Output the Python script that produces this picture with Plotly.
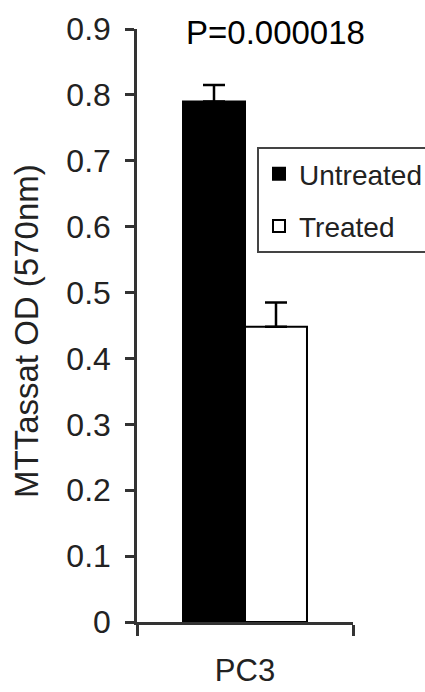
import plotly.graph_objects as go

categories = ["PC3"]
untreated = [0.79]
untreated_err = [0.025]
treated = [0.448]
treated_err = [0.037]
y_ticks = [0, 0.1, 0.2, 0.3, 0.4, 0.5, 0.6, 0.7, 0.8, 0.9]
p_label = "P=0.000018"
y_title = "MTTassat OD (570nm)"

FONT = "Liberation Sans, Arial, sans-serif"
W, H = 425, 692
ml, mr, mt, mb = 137, 72, 29, 70
pw = W - ml - mr
ph = H - mt - mb

fig = go.Figure()
fig.add_trace(go.Bar(
    name="Untreated", x=categories, y=untreated,
    marker=dict(color="#000000", line=dict(color="#000000", width=2)),
    error_y=dict(type="data", array=untreated_err, arrayminus=[0], symmetric=False,
                 color="#000000", thickness=2.5, width=11),
    legendgroup="u",
))
fig.add_trace(go.Bar(
    name="Treated", x=categories, y=treated,
    marker=dict(color="#ffffff", line=dict(color="#000000", width=2)),
    error_y=dict(type="data", array=treated_err, arrayminus=[0], symmetric=False,
                 color="#000000", thickness=2.5, width=11),
    legendgroup="t",
))

fig.update_layout(
    width=W, height=H,
    margin=dict(l=ml, r=mr, t=mt, b=mb, pad=0, autoexpand=False),
    paper_bgcolor="white", plot_bgcolor="white",
    barmode="group", bargap=0.426, bargroupgap=0,
    font=dict(family=FONT, color="#222222"),
    showlegend=True,
    legend=dict(
        x=(257 - ml) / pw, y=(H - mb - 147) / ph, xanchor="left", yanchor="top",
        bgcolor="white", bordercolor="#444444", borderwidth=2,
        font=dict(family=FONT, size=28, color="#222222"),
        traceorder="grouped", tracegroupgap=13,
    ),
    xaxis=dict(
        showline=True, linecolor="#333333", linewidth=2.5,
        ticks="outside", ticklen=11, tickwidth=2.5, tickcolor="#333333",
        tickson="boundaries", range=[-0.5, 0.5],
        tickfont=dict(family=FONT, size=31, color="#222222"),
        ticklabelstandoff=19,
        showgrid=False, zeroline=False,
    ),
    yaxis=dict(
        range=[0, 0.9], tickvals=y_ticks,
        ticktext=[("%g" % v) for v in y_ticks],
        showline=True, linecolor="#333333", linewidth=2.5,
        ticks="outside", ticklen=9, tickwidth=2.5, tickcolor="#333333",
        tickfont=dict(family=FONT, size=32, color="#222222"),
        ticklabelstandoff=8,
        showgrid=False, zeroline=False,
    ),
    annotations=[
        dict(text=p_label, xref="paper", yref="paper",
             x=(275 - ml) / pw, y=(H - mb - 32) / ph,
             xanchor="center", yanchor="middle", showarrow=False,
             font=dict(family=FONT, size=33, color="#000000")),
        dict(text=y_title, xref="paper", yref="paper",
             x=(27 - ml) / pw, y=(H - mb - 331) / ph, textangle=-90,
             xanchor="center", yanchor="middle", showarrow=False,
             font=dict(family=FONT, size=33, color="#222222")),
    ],
)

fig.write_html("out.html")
